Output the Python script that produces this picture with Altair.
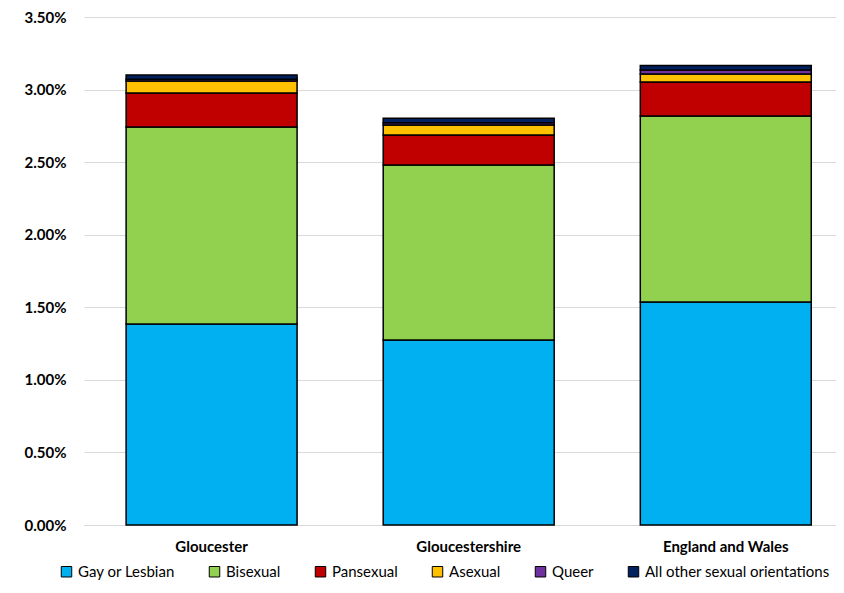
import altair as alt
import pandas as pd

areas = ["Gloucester", "Gloucestershire", "England and Wales"]
groups = ["Gay or Lesbian", "Bisexual", "Pansexual", "Asexual", "Queer", "All other sexual orientations"]
colors = ["#00B0F0", "#92D050", "#C00000", "#FFC000", "#7030A0", "#002060"]

gloucester = [1.385, 1.357, 0.234, 0.083, 0.012, 0.029]
gloucestershire = [1.275, 1.205, 0.207, 0.069, 0.016, 0.030]
england_wales = [1.536, 1.282, 0.234, 0.055, 0.028, 0.030]

rows = []
for area, vals in zip(areas, [gloucester, gloucestershire, england_wales]):
    for i, (g, v) in enumerate(zip(groups, vals)):
        rows.append({"area": area, "group": g, "value": v / 100, "order": i})
df = pd.DataFrame(rows)

FONT = "Lato"

chart = alt.Chart(df).mark_bar(stroke="black", strokeWidth=1.5).encode(
    x=alt.X("area:N", sort=areas, title=None,
            scale=alt.Scale(paddingInner=0.335, paddingOuter=0.13, align=0.63),
            axis=alt.Axis(labelAngle=0, labelFontWeight="bold", labelFontSize=15,
                          labelFont=FONT, labelColor="black", ticks=False,
                          domain=True, domainColor="#d9d9d9", labelPadding=14)),
    y=alt.Y("value:Q", title=None, stack="zero",
            scale=alt.Scale(domain=[0, 0.035]),
            axis=alt.Axis(format=".2%", values=[0, 0.005, 0.01, 0.015, 0.02, 0.025, 0.03, 0.035],
                          labelFontWeight="bold", labelFontSize=15, labelFont=FONT,
                          labelColor="black", ticks=False, domain=False, labelPadding=18,
                          gridColor="#d9d9d9", gridWidth=1)),
    color=alt.Color("group:N", sort=groups,
                    scale=alt.Scale(domain=groups, range=colors),
                    legend=alt.Legend(title=None, orient="none", direction="horizontal",
                                      columns=6, legendX=-25, legendY=547,
                                      symbolType="square", symbolSize=110,
                                      symbolStrokeColor="black", symbolStrokeWidth=1,
                                      labelFont=FONT, labelFontSize=15, labelColor="black",
                                      columnPadding=32, labelOffset=4, labelLimit=400)),
    order=alt.Order("order:Q", sort="ascending"),
).properties(
    width=752, height=508,
    autosize=alt.AutoSizeParams(type="none"),
    padding={"left": 76, "top": 9, "right": 0, "bottom": 56},
).configure_view(stroke=None)

chart.save("out.html", embed_options={"renderer": "svg", "actions": False})
